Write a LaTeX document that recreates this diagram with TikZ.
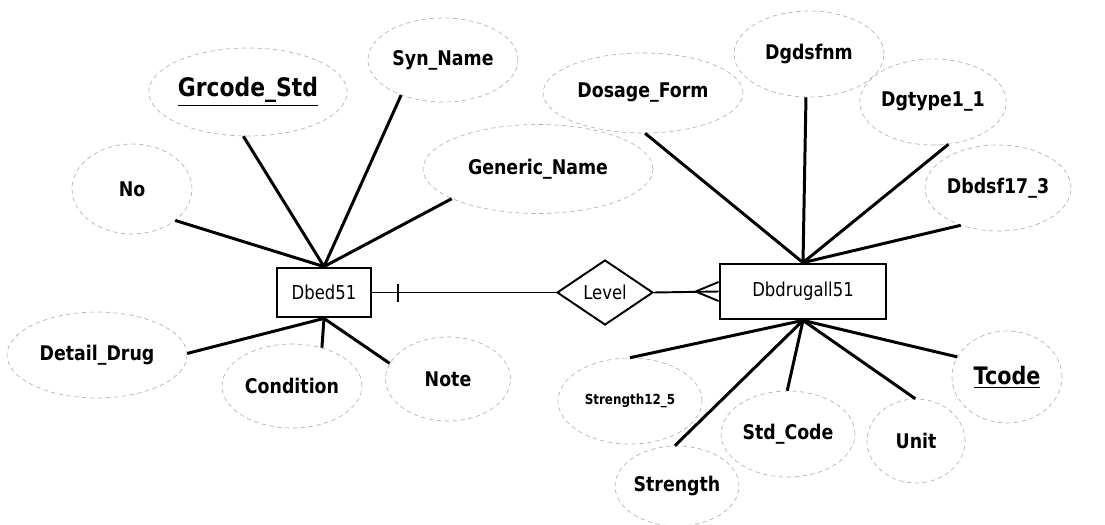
\documentclass[tikz,border=0pt]{standalone}
\usepackage{fontspec}
\usetikzlibrary{shapes.geometric}
\newfontfamily\erfont[FakeStretch=0.86]{DejaVu Sans}
\begin{document}
\begin{tikzpicture}[x=0.02cm,y=-0.02cm,
  attr/.style={ellipse, draw=black!32, dash pattern=on 2.5pt off 2pt, line width=0.35pt, inner sep=0pt,
               font=\erfont\fontsize{11.5pt}{13pt}\selectfont\bfseries},
  entbox/.style={draw, line width=1.6pt, inner sep=0pt,
               font=\erfont\fontsize{10.9pt}{13pt}\selectfont},
  rel/.style={diamond, draw, line width=1.1pt, inner sep=0pt, aspect=1.5,
               minimum width=1.92cm, minimum height=1.3cm,
               font=\erfont\fontsize{10.9pt}{13pt}\selectfont},
  link/.style={line width=1.7pt},
  rlink/.style={line width=1.1pt}]
\useasboundingbox (0,0) rectangle (1105,524);

% entities and relationship
\node[entbox, minimum width=1.88cm, minimum height=0.98cm] (e1) at (324,292.5) {Dbed51};
\node[entbox, minimum width=3.32cm, minimum height=1.10cm] (e2) at (803,291.5) {Dbdrugall51};
\node[rel] (lv) at (605,292.5) {Level};

% attributes of Dbed51
\node[attr, minimum width=2.8cm, minimum height=1.76cm] (grc) at (248,92)
  {\fontsize{14.5pt}{16pt}\selectfont\underline{Grcode\_Std}};
\node[attr, minimum width=3.0cm, minimum height=1.68cm] (syn) at (443,60) {Syn\_Name};
\node[attr, minimum width=2.4cm, minimum height=1.8cm] (no) at (132,189) {No};
\node[attr, minimum width=4.6cm, minimum height=1.78cm] (gen) at (538,169) {Generic\_Name};
\node[attr, minimum width=3.6cm, minimum height=1.72cm] (det) at (97,355) {Detail\_Drug};
\node[attr, minimum width=2.8cm, minimum height=1.68cm] (con) at (292,386) {Condition};
\node[attr, minimum width=2.5cm, minimum height=1.68cm] (nt) at (448,379) {Note};

% attributes of Dbdrugall51
\node[attr, minimum width=4.0cm, minimum height=1.6cm] (dos) at (643,93) {Dosage\_Form};
\node[attr, minimum width=3.0cm, minimum height=1.72cm] (dgd) at (809,54) {Dgdsfnm};
\node[attr, minimum width=2.4cm, minimum height=1.72cm] (dgt) at (933,102) {Dgtype1\_1};
\node[attr, minimum width=2.92cm, minimum height=1.72cm] (dbd) at (998,188) {Dbdsf17\_3};
\node[attr, minimum width=2.88cm, minimum height=1.72cm] (s125) at (630,401)
  {\fontsize{7.9pt}{9pt}\selectfont Strength12\_5};
\node[attr, minimum width=2.48cm, minimum height=1.6cm] (str) at (677,486) {Strength};
\node[attr, minimum width=2.68cm, minimum height=1.72cm] (std) at (788,434) {Std\_Code};
\node[attr, minimum width=1.96cm, minimum height=1.68cm] (un) at (916,441) {Unit};
\node[attr, minimum width=2.2cm, minimum height=1.84cm] (tc) at (1007,377)
  {\fontsize{13.7pt}{15pt}\selectfont\underline{Tcode}};

% attribute links
\draw[link] (no.324) -- (e1.north);
\draw[link] (grc.264) -- (e1.north);
\draw[link] (syn.220) -- (e1.north);
\draw[link] (gen.199) -- (e1.north);
\draw[link] (det.1) -- (e1.south);
\draw[link] (con.52) -- (e1.south);
\draw[link] (nt.165) -- (e1.south);

\draw[link] (dos.273) -- (e2.north);
\draw[link] (dgd.266) -- (e2.north);
\draw[link] (dgt.290) -- (e2.north);
\draw[link] (dbd.225) -- (e2.north);
\draw[link] (s125.90) -- (e2.south);
\draw[link] (str.93) -- (e2.south);
\draw[link] (std.91) -- (e2.south);
\draw[link] (un.91) -- (e2.south);
\draw[link] (tc.158) -- (e2.south);

% relationship links: one side and crow's foot side
\draw[rlink] (e1.east) -- (lv.west);
\draw[rlink] ([xshift=0.52cm,yshift=-0.18cm]e1.east) -- ([xshift=0.52cm,yshift=0.18cm]e1.east);
\draw[rlink] (lv.east) -- (e2.west);
\draw[rlink] ([xshift=-0.46cm]e2.west) -- ([yshift=0.19cm]e2.west);
\draw[rlink] ([xshift=-0.46cm]e2.west) -- ([yshift=-0.19cm]e2.west);
\end{tikzpicture}
\end{document}
